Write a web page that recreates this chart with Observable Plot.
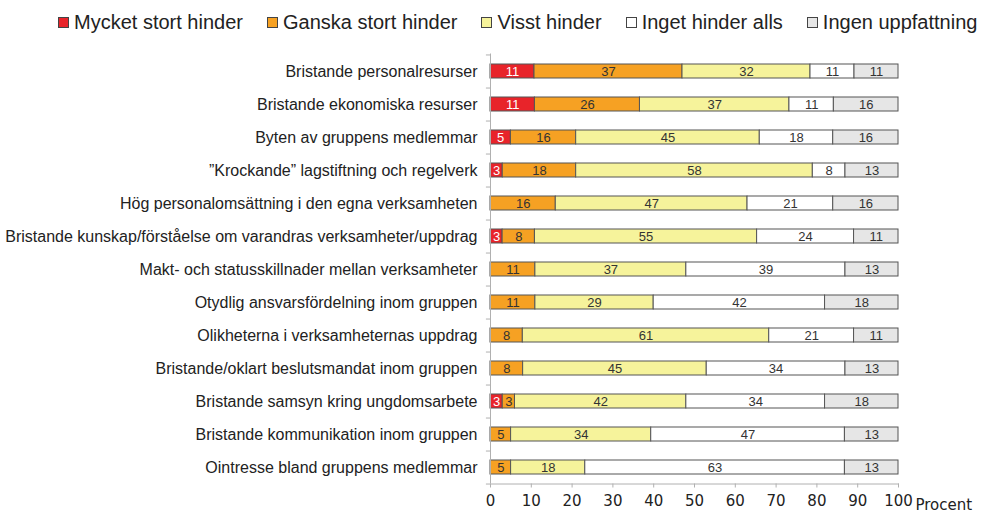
<!DOCTYPE html>
<html>
<head>
<meta charset="utf-8">
<script src="https://cdn.jsdelivr.net/npm/d3@7"></script>
<script src="https://cdn.jsdelivr.net/npm/@observablehq/plot@0.6"></script>
<style>
  html, body { margin: 0; padding: 0; background: #fff; }
  #legend { height: 44px; display: flex; align-items: center; padding-left: 58px; gap: 24px;
            font-family: "Liberation Sans", Arial, sans-serif; font-size: 20px; color: #222; box-sizing: border-box; }
  #legend .item { display: flex; align-items: center; white-space: nowrap; }
  #legend .sw { width: 9px; height: 9px; border: 1px solid #444; margin-right: 5px; box-sizing: content-box; }
  #chart svg { display: block; }
</style>
</head>
<body>
<div id="legend"></div>
<div id="chart"></div>
<script>
const categories = [
  "Bristande personalresurser",
  "Bristande ekonomiska resurser",
  "Byten av gruppens medlemmar",
  "”Krockande” lagstiftning och regelverk",
  "Hög personalomsättning i den egna verksamheten",
  "Bristande kunskap/förståelse om varandras verksamheter/uppdrag",
  "Makt- och statusskillnader mellan verksamheter",
  "Otydlig ansvarsfördelning inom gruppen",
  "Olikheterna i verksamheternas uppdrag",
  "Bristande/oklart beslutsmandat inom gruppen",
  "Bristande samsyn kring ungdomsarbete",
  "Bristande kommunikation inom gruppen",
  "Ointresse bland gruppens medlemmar"
];
const levels = ["Mycket stort hinder", "Ganska stort hinder", "Visst hinder", "Inget hinder alls", "Ingen uppfattning"];
const colors = ["#e8242a", "#f6a123", "#f6f39b", "#ffffff", "#e6e6e6"];

const mycketStort = [11, 11, 5, 3, 0, 3, 0, 0, 0, 0, 3, 0, 0];
const ganskaStort = [37, 26, 16, 18, 16, 8, 11, 11, 8, 8, 3, 5, 5];
const visst       = [32, 37, 45, 58, 47, 55, 37, 29, 61, 45, 42, 34, 18];
const inget       = [11, 11, 18, 8, 21, 24, 39, 42, 21, 34, 34, 47, 63];
const ingenUppf   = [11, 16, 16, 13, 16, 11, 13, 18, 11, 13, 18, 13, 13];
const series = [mycketStort, ganskaStort, visst, inget, ingenUppf];
const xTicks = [0, 10, 20, 30, 40, 50, 60, 70, 80, 90, 100];
const axisLabel = "Procent";

// legend
const legend = document.getElementById("legend");
levels.forEach((l, i) => {
  const it = document.createElement("div");
  it.className = "item";
  const sw = document.createElement("span");
  sw.className = "sw";
  sw.style.background = colors[i];
  it.appendChild(sw);
  it.appendChild(document.createTextNode(l));
  legend.appendChild(it);
});

// long data; shares normalized to 100 per row (printed values are rounded)
const data = [];
categories.forEach((c, ci) => {
  const sum = d3.sum(series, s => s[ci]);
  levels.forEach((l, li) => {
    const v = series[li][ci];
    if (v > 0) data.push({cat: c, level: l, value: v, share: v / sum * 100});
  });
});

const W = 986, H = 469, mT = 9.5, mB = 29.5, mL = 490, mR = 88;
const step = (H - mT - mB) / categories.length;

const stack = opts => Plot.stackX({x: "share", y: "cat", z: "level", order: null, ...opts});

const chart = Plot.plot({
  width: W, height: H,
  marginTop: mT, marginBottom: mB, marginLeft: mL, marginRight: mR,
  style: {fontFamily: "'Liberation Sans', Arial, sans-serif", background: "white"},
  x: {domain: [0, 100], ticks: xTicks},
  y: {domain: categories, paddingInner: 0.59, paddingOuter: 0.295, label: null},
  color: {domain: levels, range: colors},
  marks: [
    Plot.barX(data, stack({fill: "level", stroke: "#555", strokeWidth: 1})),
    Plot.text(data, stack({text: d => d.level === levels[0] ? String(d.value) : "", fill: "white", fontSize: 13})),
    Plot.text(data, stack({text: d => d.level !== levels[0] ? String(d.value) : "", fill: "#333", fontSize: 13})),
    Plot.ruleX([0], {stroke: "#b0b0b0"}),
    Plot.frame({anchor: "bottom", stroke: "#b0b0b0"}),
    Plot.ruleY(categories, {y: d => d, x1: () => -1, x2: () => 0, dy: step / 2, stroke: "#b0b0b0"}),
    Plot.ruleY(categories.slice(0, 1), {y: d => d, x1: () => -1, x2: () => 0, dy: -step / 2, stroke: "#b0b0b0"}),
    Plot.axisY({tickSize: 0, tickPadding: 13, fontSize: 16, fill: "#222", label: null}),
    Plot.axisX({ticks: xTicks, tickSize: 4, tickPadding: 7, stroke: "#b0b0b0", fill: "#222",
                fontSize: 15, fontFamily: "DejaVu Sans", label: null}),
    Plot.text([axisLabel], {x: () => xTicks[xTicks.length - 1], frameAnchor: "bottom", dx: 17, dy: 21,
                textAnchor: "start", lineAnchor: "middle", fontSize: 15, fontFamily: "DejaVu Sans", fill: "#222"})
  ]
});
document.getElementById("chart").appendChild(chart);
</script>
</body>
</html>
